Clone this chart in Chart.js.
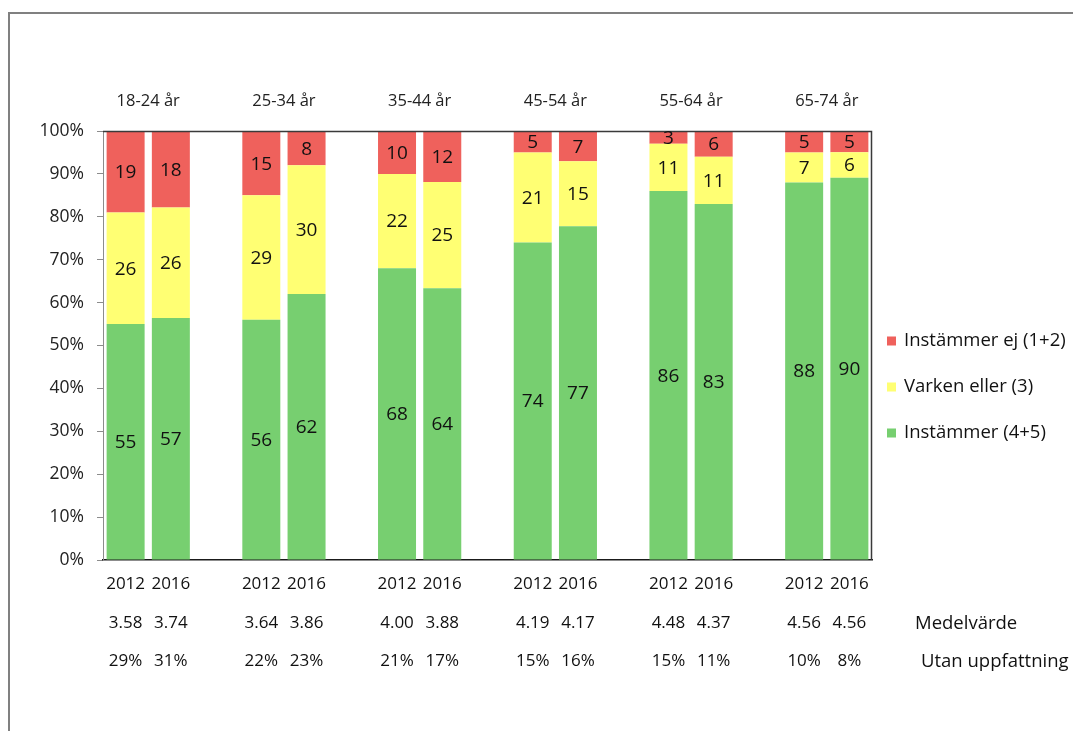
<!DOCTYPE html>
<html><head><meta charset="utf-8">
<script src="https://cdn.jsdelivr.net/npm/chart.js@4.4.1/dist/chart.umd.min.js"></script>
<style>html,body{margin:0;padding:0;background:#fff;overflow:hidden}#wrap{width:1073px;height:731px;position:relative}</style>
</head><body><div id="wrap"><canvas id="c" width="1073" height="731"></canvas></div>
<script>
const ageGroups = ['18-24 år','25-34 år','35-44 år','45-54 år','55-64 år','65-74 år'];
const years = ['2012','2016'];
const instammer   = [55,57, 56,62, 68,64, 74,77, 86,83, 88,90];
const varken      = [26,26, 29,30, 22,25, 21,15, 11,11, 7,6];
const instammerEj = [19,18, 15,8,  10,12, 5,7,   3,6,   5,5];
const medelvarde  = ['3.58','3.74','3.64','3.86','4.00','3.88','4.19','4.17','4.48','4.37','4.56','4.56'];
const utanUppfattning = ['29%','31%','22%','23%','21%','17%','15%','16%','15%','11%','10%','8%'];
const seriesNames = ['Instämmer (4+5)','Varken eller (3)','Instämmer ej (1+2)'];
const rowNames = ['Medelvärde','Utan uppfattning'];
const colors = ['#77CF70','#FFFF73','#EF615C'];
const FONT = "'Open Sans', sans-serif";

// build slots: two bars per group, one empty slot between groups
const slotLabels = [], slotIndex = [];
ageGroups.forEach((g, gi) => {
  years.forEach((y, yi) => {
    const i = gi*2+yi;
    slotLabels.push([y, medelvarde[i], utanUppfattning[i]]);
    slotIndex.push(i);
  });
  if (gi < ageGroups.length-1) { slotLabels.push(''); slotIndex.push(null); }
});
const raw = [instammer, varken, instammerEj];
function norm(arr){
  return slotIndex.map(i => i===null ? null : arr[i] / (instammer[i]+varken[i]+instammerEj[i]) * 100);
}
function rawSlots(arr){ return slotIndex.map(i => i===null ? null : arr[i]); }

const datasets = raw.map((arr, k) => ({
  label: seriesNames[k],
  data: norm(arr),
  rawValues: rawSlots(arr),
  backgroundColor: colors[k],
  borderWidth: 0,
  categoryPercentage: 1,
  barPercentage: 0.84
}));

const decor = {
  id: 'decor',
  beforeDraw(chart){
    const ctx = chart.ctx;
    ctx.save();
    ctx.strokeStyle = '#808080'; ctx.lineWidth = 2;
    ctx.beginPath(); ctx.moveTo(9, 731); ctx.lineTo(9, 13); ctx.lineTo(1073, 13); ctx.stroke();
    ctx.restore();
  },
  afterDatasetsDraw(chart){
    const ctx = chart.ctx, a = chart.chartArea;
    ctx.save();
    ctx.strokeStyle = '#3a3a3a'; ctx.lineWidth = 1.5;
    ctx.beginPath(); ctx.moveTo(a.left, a.top+0.5); ctx.lineTo(a.right-0.5, a.top+0.5); ctx.lineTo(a.right-0.5, a.bottom); ctx.stroke();
    ctx.font = "19px " + FONT; ctx.fillStyle = '#111'; ctx.textAlign = 'center'; ctx.textBaseline = 'middle';
    chart.data.datasets.forEach((ds, di) => {
      chart.getDatasetMeta(di).data.forEach((el, j) => {
        const v = ds.rawValues[j];
        if (v === null) return;
        ctx.fillText(String(v), el.x, (el.y + el.base)/2 + 1);
      });
    });
    const xs = chart.scales.x;
    ctx.font = "16.5px " + FONT; ctx.fillStyle = '#222';
    let s = 0;
    ageGroups.forEach((g) => {
      const x = (xs.getPixelForValue(s) + xs.getPixelForValue(s+1)) / 2;
      ctx.fillText(g, x, 101);
      s += 3;
    });
    ctx.textAlign = 'left'; ctx.font = "18.5px " + FONT; ctx.fillStyle = '#111';
    ctx.fillText(rowNames[0], 915, 624);
    ctx.fillText(rowNames[1], 921, 662);
    ctx.font = "18.5px " + FONT;
    const order = [2,1,0], ly = [341, 387, 433];
    order.forEach((k, r) => {
      ctx.fillStyle = colors[k];
      ctx.fillRect(887, ly[r]-4.5, 9, 9);
      ctx.fillStyle = '#111';
      ctx.fillText(seriesNames[k], 904, ly[r]);
    });
    ctx.restore();
  }
};

new Chart(document.getElementById('c'), {
  type: 'bar',
  data: { labels: slotLabels, datasets },
  options: {
    responsive: false, animation: false, devicePixelRatio: 1,
    layout: { padding: { top: 131, right: 201, left: 0, bottom: 0 } },
    plugins: { legend: { display: false }, tooltip: { enabled: false } },
    scales: {
      x: {
        stacked: true,
        afterFit(s){ s.height = 171; },
        grid: { display: false, drawTicks: false },
        border: { display: true, color: '#1a1a1a', width: 1.5 },
        ticks: { autoSkip: false, maxRotation: 0, minRotation: 0, padding: 5, color: '#111',
                 font: { family: FONT, size: 17, lineHeight: 2.27 } }
      },
      y: {
        stacked: true, min: 0, max: 100,
        afterFit(s){ s.width = 103; },
        grid: { drawOnChartArea: false, drawTicks: true, tickLength: 6, color: '#8c8c8c' },
        border: { display: true, color: '#8c8c8c', width: 1 },
        ticks: { stepSize: 10, padding: 13, color: '#222', font: { family: FONT, size: 17.5 },
                 callback: v => v + '%' }
      }
    }
  },
  plugins: [decor]
});
</script></body></html>
